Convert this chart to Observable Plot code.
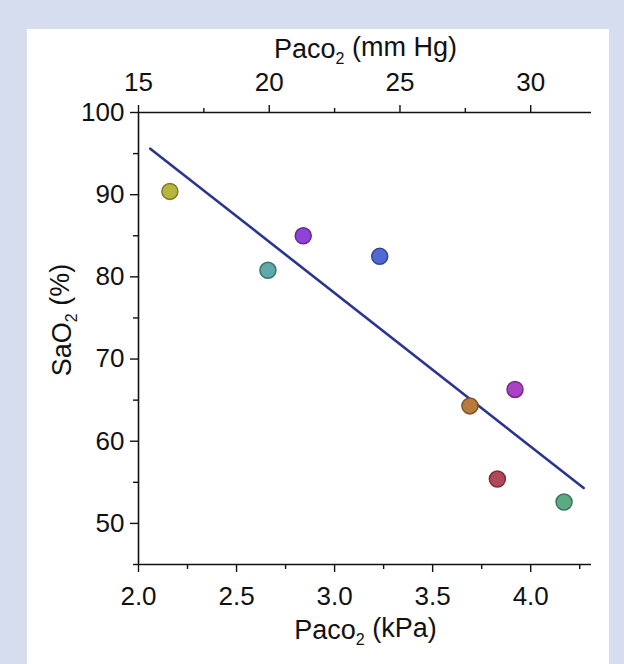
<!DOCTYPE html>
<html>
<head>
<meta charset="utf-8">
<script src="https://cdn.jsdelivr.net/npm/d3@7"></script>
<script src="https://cdn.jsdelivr.net/npm/@observablehq/plot@0.6"></script>
<style>
  html, body { margin: 0; padding: 0; background: #d5ddee; }
  #wrap { position: relative; width: 624px; height: 664px; overflow: hidden; }
  #panel { position: absolute; left: 27px; top: 29px; width: 582px; height: 640px; background: #ffffff; }
  #chart { position: absolute; left: 0; top: 0; }
  svg { font-family: "Liberation Sans", Arial, sans-serif; }
</style>
</head>
<body>
<div id="wrap"><div id="panel"></div><div id="chart"></div></div>
<script>
// Data
const paco2Kpa = [2.16, 2.66, 2.84, 3.23, 3.69, 3.92, 3.83, 4.17];
const sao2 = [90.4, 80.8, 85.0, 82.5, 64.3, 66.3, 55.4, 52.6];
const fills = ["#b8b53c", "#5ea9aa", "#8f42d8", "#5068d4", "#b87b3c", "#a942c4", "#b04858", "#5caa82"];
const fitX = [2.06, 4.27];
const fitY = [95.6, 54.3];
const kpaTicks = [2.0, 2.5, 3.0, 3.5, 4.0];
const kpaMinor = [2.25, 2.75, 3.25, 3.75, 4.25];
const mmhgTicks = [15, 20, 25, 30];
const mmhgMinor = [17.5, 22.5, 27.5];
const yTicks = [50, 60, 70, 80, 90, 100];
const yMinor = [45, 55, 65, 75, 85, 95];
const MMHG_PER_KPA = 7.5;

const points = paco2Kpa.map((x, i) => ({x, y: sao2[i], fill: fills[i], stroke: d3.color(fills[i]).darker(1.1).formatHex()}));
const fit = fitX.map((x, i) => ({x, y: fitY[i]}));

const axisColor = "#111";
const FS = 26;
const chart = Plot.plot({
  width: 624,
  height: 664,
  marginLeft: 138,
  marginRight: 33,
  marginTop: 112,
  marginBottom: 100,
  style: {background: "transparent", fontSize: FS + "px", fontFamily: "Liberation Sans, Arial, sans-serif", color: axisColor, overflow: "visible"},
  x: {domain: [2.0, 4.31]},
  y: {domain: [45, 100]},
  marks: [
    // bottom axis (kPa)
    Plot.axisX({anchor: "bottom", ticks: kpaTicks, tickSize: 8, tickPadding: 14, fontSize: FS, tickFormat: d3.format(".1f"), label: null, strokeWidth: 1.4}),
    Plot.axisX({anchor: "bottom", ticks: kpaMinor, tickSize: 5, tickFormat: () => "", label: null, strokeWidth: 1.4}),
    // top axis (mm Hg)
    Plot.axisX({anchor: "top", ticks: mmhgTicks.map(v => v / MMHG_PER_KPA), tickSize: 8, tickPadding: 14, fontSize: FS, tickFormat: d => String(Math.round(d * MMHG_PER_KPA)), label: null, strokeWidth: 1.4}),
    Plot.axisX({anchor: "top", ticks: mmhgMinor.map(v => v / MMHG_PER_KPA), tickSize: 5, tickFormat: () => "", label: null, strokeWidth: 1.4}),
    // left axis
    Plot.axisY({anchor: "left", ticks: yTicks, tickSize: 8, tickPadding: 6, fontSize: FS, label: null, strokeWidth: 1.4}),
    Plot.axisY({anchor: "left", ticks: yMinor, tickSize: 5, tickFormat: () => "", label: null, strokeWidth: 1.4}),
    Plot.ruleY([45], {stroke: axisColor, strokeWidth: 1.6}),
    Plot.ruleY([100], {stroke: axisColor, strokeWidth: 1.6}),
    Plot.ruleX([2.0], {stroke: axisColor, strokeWidth: 1.6}),
    // regression line
    Plot.line(fit, {x: "x", y: "y", stroke: "#2b358e", strokeWidth: 2.6}),
    // points
    Plot.dot(points, {x: "x", y: "y", r: 8, fill: "fill", stroke: "stroke", strokeWidth: 1.5})
  ]
});

// Axis titles with subscripts
const svg = d3.select(chart);
const xr = chart.scale("x").range;
const yr = chart.scale("y").range;
const xMid = (xr[0] + xr[1]) / 2;
const yMid = (yr[0] + yr[1]) / 2;
function title(sel, parts) {
  parts.forEach(([t, sub], i) => {
    const ts = sel.append("tspan").text(t);
    if (sub) ts.attr("font-size", "16px").attr("dy", "0.35em");
    else if (i > 0) ts.attr("dy", "-0.3em");
  });
}
const TS = "27px";
const topT = svg.append("text").attr("x", xMid + 1).attr("y", yr[1] - 54).attr("text-anchor", "middle")
  .attr("font-size", TS).attr("fill", axisColor);
title(topT, [["Paco"], ["2", true], [" (mm Hg)"]]);
const botT = svg.append("text").attr("x", xMid + 1).attr("y", yr[0] + 75).attr("text-anchor", "middle")
  .attr("font-size", TS).attr("fill", axisColor);
title(botT, [["Paco"], ["2", true], [" (kPa)"]]);
const yT = svg.append("text").attr("transform", `translate(${xr[0] - 67},${yMid - 18}) rotate(-90)`).attr("text-anchor", "middle")
  .attr("font-size", TS).attr("fill", axisColor);
title(yT, [["SaO"], ["2", true], [" (%)"]]);

document.getElementById("chart").appendChild(chart);
</script>
</body>
</html>
